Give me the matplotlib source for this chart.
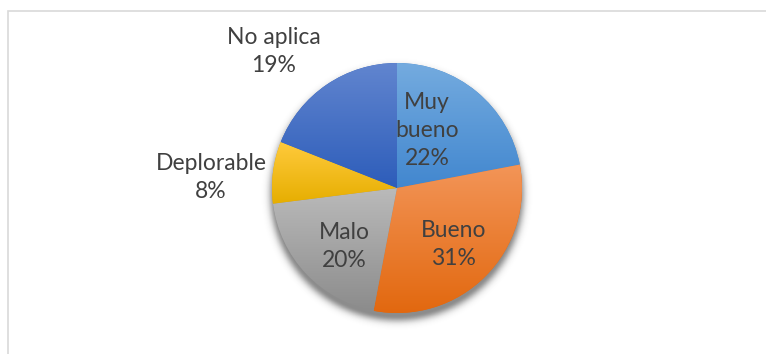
import numpy as np
import matplotlib
matplotlib.use("Agg")
import matplotlib.pyplot as plt
from matplotlib.colors import to_rgb
from matplotlib.patches import Rectangle

# ---- data ----
categories = ["Muy\nbueno", "Bueno", "Malo", "Deplorable", "No aplica"]
values = [22, 31, 20, 8, 19]
pct_labels = ["22%", "31%", "20%", "8%", "19%"]

# ---- style ----
top_colors = ["#74ABDF", "#F39558", "#BABABA", "#FFCA3C", "#6185CF"]
bot_colors = ["#4287CF", "#E2680F", "#8C8C8C", "#E6AE00", "#2D5DBA"]
label_dist = [0.52, 0.64, 0.63, 1.49, 1.47]
label_ang_shift = [12, 0, 5, 4, 8]

W, H = 766, 354
fig = plt.figure(figsize=(W / 100, H / 100), dpi=100)
ax = fig.add_axes([0, 0, 1, 1])
ax.set_axis_off()

cx, cy, R = 397, H - 188, 125

# chart frame
ax.add_patch(Rectangle((8, -20), 800, H - 11 + 20, facecolor="white",
                       edgecolor="#D9D9D9", linewidth=1.2, zorder=0))

# soft shadow
xs = np.linspace(cx - R - 30, cx + R + 30, 400)
ys = np.linspace(cy - R - 30, cy + R + 30, 400)
X, Y = np.meshgrid(xs, ys)
d = np.sqrt((X - cx) ** 2 + (Y - (cy - 6)) ** 2) - R
alpha = np.clip(0.6 * np.exp(-np.clip(d + 3, 0, None) ** 2 / (2 * 4.5 ** 2)), 0, 1)
img = np.zeros((400, 400, 4))
img[..., :3] = 0.25
img[..., 3] = alpha
ax.imshow(img, extent=(xs[0], xs[-1], ys[0], ys[-1]), origin="lower",
          zorder=1, interpolation="bilinear")

wedges, _ = ax.pie(values, center=(cx, cy), radius=R, startangle=90,
                   counterclock=False, colors=bot_colors,
                   wedgeprops=dict(linewidth=0, zorder=2))

for w, tc, bc in zip(wedges, top_colors, bot_colors):
    ext = w.get_path().get_extents(w.get_transform() - ax.transData)
    t = np.linspace(0, 1, 256)[:, None]
    c1, c2 = np.array(to_rgb(tc)), np.array(to_rgb(bc))
    grad = (c1[None, None, :] * (1 - t[..., None]) + c2[None, None, :] * t[..., None])
    grad = np.repeat(grad, 2, axis=1)
    im = ax.imshow(grad, extent=(ext.x0, ext.x1, ext.y0, ext.y1),
                   origin="upper", zorder=3, aspect="auto", interpolation="bilinear")
    im.set_clip_path(w)

# labels
for w, cat, p, ld, sh in zip(wedges, categories, pct_labels, label_dist, label_ang_shift):
    ang = np.deg2rad((w.theta1 + w.theta2) / 2 + sh)
    x = cx + ld * R * np.cos(ang)
    y = cy + ld * R * np.sin(ang)
    ax.text(x, y, f"{cat}\n{p}", ha="center", va="center",
            fontsize=16.5, color="#404040", family=["Lato", "DejaVu Sans"],
            linespacing=1.42, zorder=5)

ax.set_xlim(0, W)
ax.set_ylim(0, H)
ax.set_aspect("equal")
fig.savefig("out.png", dpi=100)
